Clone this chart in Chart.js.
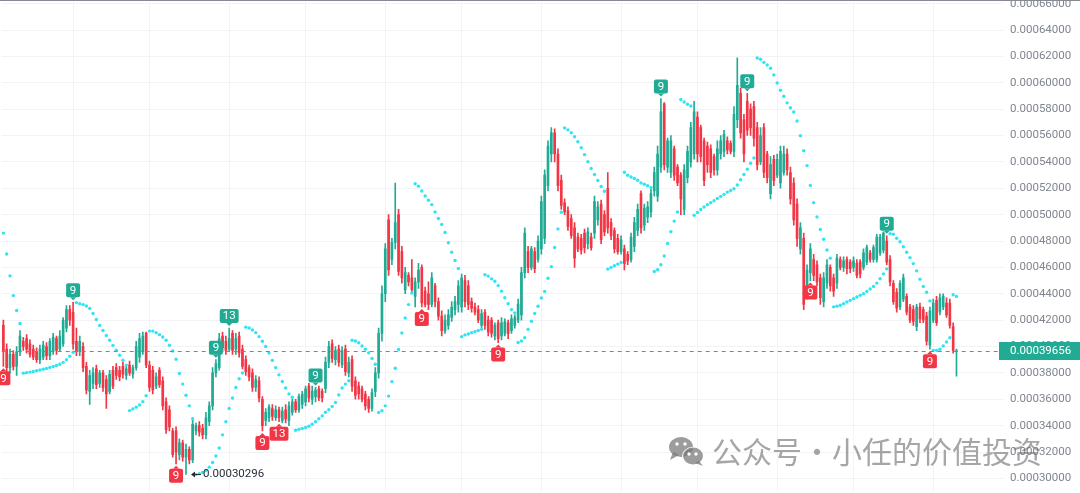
<!DOCTYPE html>
<html>
<head>
<meta charset="utf-8">
<title>Candles with Parabolic SAR</title>
<script src="https://cdn.jsdelivr.net/npm/chart.js@4.4.0/dist/chart.umd.min.js"></script>
<style>
  html, body { margin: 0; padding: 0; background: #ffffff; }
  canvas { display: block; }
</style>
</head>
<body>
<canvas id="chart" width="1080" height="493"></canvas>
<script>
// Prices are stored in millionths (1 unit = 0.000001)
const UNIT = 1e-6;

const openP = [
  416,398,384,394,385,396,404,406,402,398,396,390,
  392,400,393,396,406,398,402,414,428,426,404,396,
  400,385,366,372,383,372,380,375,366,382,384,382,
  385,378,386,379,384,392,396,410,386,382,370,382,
  374,358,352,336,336,318,327,316,322,314,336,340,
  338,333,343,355,380,384,408,404,398,410,398,408,
  398,390,384,380,369,374,360,344,346,353,346,352,
  344,352,344,350,358,352,356,358,370,360,362,368,
  366,368,388,402,390,398,386,398,380,390,374,370,
  368,364,360,353,366,380,410,440,496,466,479,500,
  472,443,454,452,438,449,460,442,440,432,446,434,
  423,412,416,422,428,432,430,450,446,434,430,428,
  416,426,420,420,408,418,408,410,418,412,416,420,
  424,456,472,460,472,466,474,482,522,546,562,546,
  526,509,503,497,490,483,482,486,478,483,486,496,
  508,500,520,494,488,482,472,474,470,466,476,488,
  516,492,498,502,518,514,536,584,536,532,550,536,
  530,504,528,540,546,574,566,556,552,550,544,534,
  546,548,556,554,548,572,592,572,586,580,582,566,
  540,566,546,516,542,530,524,532,546,532,524,508,
  474,482,440,456,466,462,452,434,448,460,452,448,
  466,460,466,464,460,463,464,460,464,471,466,466,
  471,473,480,466,448,441,430,436,438,430,428,415,
  430,428,423,401,420,435,426,430,433,433,415,396
];

const highP = [
  420,402,398,397,400,412,407,409,405,401,399,401,
  404,403,406,410,408,412,422,431,431,433.5,414,408,
  403,388,382,384,386,382,382,378,382,385,387,385,
  388,385,389,386,404,410,411,411,389,385,380,384,
  377,361,355,338,339,330,329,326,324,344,342,343,
  341,350,358,384,390,410,411,408,414,412,410,411,
  401,393,386,383,378,377,362,353,356,356,355,354,
  354,356,358,360,360,364,366,370,372,370,369,370,
  368,392,404,405,400,401,400,401,392,393,377,373,
  370,366,362,368,384,414,446,478,500,482,524,504,
  476,460,456,466,452,463,462,445,449,456,448,437,
  427,424,428,434,438,450,455,454,450,437,433,431,
  428,428,423,422,418,420,422,421,420,424,424,436,
  460,490,476,476,475,484,514,534,556,566,565,550,
  530,512,506,500,494,486,485,489,490,486,514,510,
  511,503,532,497,490,485,484,477,472,486,498,508,
  518,508,510,520,536,552,588,585,558,560,552,538,
  532,538,552,570,586,578,568,558,555,553,546,556,
  560,564,559,556,582,619,596,576,592,584,586,570,
  566,569,548,544,545,546,552,552,550,536,528,512,
  494,486,462,478,470,465,455,456,466,462,455,470,
  468,468,468,466,468,466,466,474,477,473,477,485,
  485,487,484,469,450,444,450,455,440,432,431,432,
  433,430,426,430,436,438,440,440,437,436,418,398
];

const lowP = [
  385,381,380,382,378,393,397,395,392,390,388,387,
  390,390,390,394,394,396,400,411,416,398,393,393,
  381,364,356,368,368,369,366,353,364,368,375,374,
  376,375,378,376,382,388,394,384,366,364,368,369,
  352,334,336,316,311,314,313,302.96,311,312,333,332,
  330,330,340,352,377,382,396,394,396,394,394,392,
  383,378,374,366,366,358,336,340,343,344,344,343,
  342,342,340,348,350,350,353,355,358,356,358,359,
  358,365,384,388,386,385,384,378,377,366,360,360,
  358,352,350,351,362,376,404,434,454,462,474,454,
  448,440,446,441,430,444,430,430,428,430,430,420,
  408,410,413,419,424,426,426,430,428,426,424,418,
  414,413,408,407,405,403,405,408,406,410,414,418,
  420,452,456,458,456,464,470,478,518,540,540,518,
  504,500,488,482,460,472,470,471,474,473,482,492,
  478,484,486,481,471,470,470,458,462,464,472,484,
  486,488,494,498,514,510,532,534,532,528,526,522,
  500,500,524,536,542,540,540,522,532,528,530,530,
  542,544,546,546,544,566,558,540,560,560,552,534,
  538,528,524,512,522,528,520,530,530,508,492,476,
  470,428,436,450,450,446,432,430,444,442,438,444,
  458,457,455,456,457,452,452,458,462,464,464,464,
  469,471,462,446,432,426,428,434,424,418,416,412,
  418,418,401,398,418,416,424,428,422,414,395,377.6
];

const closeP = [
  396,384,394,385,396,408,400,398,394,392,390,398,
  401,393,404,407,397,408,420,428,420,402,396,404,
  384,367,378,380,371,380,369,364,379,370,378,377,
  379,383,380,384,400,406,408,386,369,367,377,371,
  355,337,339,318,320,327,316,322,314,341,340,335,
  333,346,355,380,387,406,399,397,406,397,406,395,
  385,381,377,369,375,361,340,350,354,347,352,346,
  351,345,355,358,352,362,364,368,361,366,367,361,
  361,388,400,391,397,388,397,381,388,370,363,364,
  360,355,353,365,380,410,440,474,458,479,494,457,
  452,456,449,443,449,458,433,432,432,452,434,423,
  412,420,424,430,434,446,452,434,432,429,426,420,
  425,416,411,410,416,406,418,419,410,421,422,432,
  456,486,460,474,459,480,510,530,552,562,546,522,
  507,502,491,484,467,474,473,475,487,475,510,506,
  481,487,490,484,474,472,481,463,465,483,494,504,
  490,505,506,516,532,546,578,538,556,556,530,524,
  512,534,548,566,578,546,544,526,538,532,534,550,
  556,561,549,548,576,598,562,546,564,566,558,538,
  560,532,528,538,526,542,548,546,534,512,496,482,
  490,432,458,474,454,449,437,452,462,446,442,467,
  460,465,459,459,465,454,455,471,475,466,475,483,
  483,486,464,449,434,429,448,452,426,420,419,430,
  421,420,404,427,433,418,437,438,424,416,397,396.56
];

// Parabolic SAR, one value per candle
const sarP = [
  486,470.2,453.6,438.6,427.3,417.5,379.8,380.2,380.6,381.1,381.6,382.2,
  382.8,383.4,384.1,384.8,385.6,386.6,388,390,392.6,395.6,433.3,432.5,
  431.8,430.7,428.8,425,420.5,416,412.2,408.4,404.7,400.9,397.2,393.4,
  389.6,385.9,351.4,352.7,354,355.7,358.2,362.7,411.7,411.7,410.5,409,
  407.2,404.7,401,396.6,390.4,379.6,371.5,363,355,345.2,302.96,303.5,
  304.5,306,308.5,312,317,323,333,343,353,361,369,375.5,
  380,414.7,414,412.5,410.5,407.5,404,400,395,389.5,384,378.5,
  373.5,368.5,364,361.5,336.5,337.3,337.8,338.6,339.5,341,342.9,345.2,
  347.4,350.1,352,354.6,357.6,363.3,368.5,371.5,374,404.7,404.2,402.8,
  400.4,397.9,395.2,391,386.6,350,351.3,355,362.4,373.4,383.5,397.7,
  410.3,421.6,431.8,440.6,523.4,521.6,517.9,514.1,510.9,507.6,502.1,497.1,
  492.6,486.5,478.7,471.5,465.2,459.2,407.5,408.8,409.5,410.5,411.3,412.2,
  413,454.4,453.4,451.3,449.5,446.2,442,437,432.5,428,425.5,403,
  404.2,406.7,413,419.2,425,430.5,436.8,441.8,451.8,460.5,475.1,489.2,
  501.8,565.8,564.3,562.1,559.1,555.3,550.8,545.5,540.2,535,530.4,525.9,
  521.4,517.7,458.7,460,461.2,462.5,463.7,532.2,529.9,528.6,527.4,526.1,
  524.1,523.1,521.9,520.6,456.9,458.2,462,468.7,478.2,487,495.1,502.1,
  587.4,585.4,583.7,582.4,499.6,501.6,503.9,505.8,507.6,509.1,510.6,512.2,
  513.9,515.4,517.1,518.4,519.7,522.5,526.5,530.5,534.5,539,543,618.8,
  617.8,615.5,613.5,611,606,599.9,594.3,589.8,584.8,581.1,577.8,571,
  559.8,548.5,537.2,522.2,509.1,498.3,488.8,481.3,473.2,467,430.1,430.5,
  431.3,432.5,433.8,435,436.3,437.6,438.8,440.1,441.8,443.6,445.6,448.1,
  451.4,455.1,458.9,485.6,485.1,482.1,479.5,475.7,471.5,467.4,462.9,457.4,
  451.1,445.6,441.1,434.6,397.1,397.1,397.9,400.4,403.4,406.7,439.3,438
];

// TD sequential counts: above the bar (sell setup) and below the bar (buy setup)
const tdUpIndex = [21, 64, 68, 94, 198, 224, 266];
const tdUpText  = ['9', '9', '13', '9', '9', '9', '9'];
const tdDownIndex = [0, 52, 78, 83, 126, 149, 243, 279];
const tdDownText  = ['9', '9', '9', '13', '9', '9', '9', '9'];

// Price axis ticks and range
const yTicks = [300, 320, 340, 360, 380, 400, 420, 440, 460, 480, 500, 520, 540, 560, 580, 600, 620, 640, 660];
const yMin = 290.2;
const yMax = 661.5;

// Session separators (bar indices) and total slots on the time axis
const sessionLines = [21, 44, 68, 91, 115, 138, 162, 186, 209, 233, 256, 280];
const SLOTS = 300;

const UP = '#22ab94';
const DOWN = '#f23645';
const SAR_COLOR = '#2fe4f3';
const AXIS_TEXT = '#80858f';
const GRID = '#f1f3f7';

const slotLabels = Array.from({ length: SLOTS }, (_, i) => String(i));
const candleColors = openP.map((o, i) => (closeP[i] >= o ? UP : DOWN));

const fmt = v => (v * UNIT).toFixed(8);

function roundRect(ctx, x, y, w, h, r) {
  ctx.beginPath();
  ctx.moveTo(x + r, y);
  ctx.lineTo(x + w - r, y);
  ctx.quadraticCurveTo(x + w, y, x + w, y + r);
  ctx.lineTo(x + w, y + h - r);
  ctx.quadraticCurveTo(x + w, y + h, x + w - r, y + h);
  ctx.lineTo(x + r, y + h);
  ctx.quadraticCurveTo(x, y + h, x, y + h - r);
  ctx.lineTo(x, y + r);
  ctx.quadraticCurveTo(x, y, x + r, y);
  ctx.closePath();
}

// TD count labels, last-price line and lowest-low marker
const overlayPlugin = {
  id: 'overlay',
  afterDatasetsDraw(chart) {
    const { ctx, chartArea, scales: { x, y } } = chart;
    ctx.save();

    // last price dashed line
    const last = closeP.length - 1;
    const py = Math.round(y.getPixelForValue(closeP[last])) + 0.5;
    ctx.strokeStyle = '#26b09a';
    ctx.lineWidth = 1;
    ctx.setLineDash([4, 4]);
    ctx.beginPath();
    ctx.moveTo(chartArea.left, py);
    ctx.lineTo(chartArea.right, py);
    ctx.stroke();
    ctx.setLineDash([]);

    ctx.font = '11.5px Roboto, "Liberation Sans", sans-serif';
    ctx.textAlign = 'center';
    ctx.textBaseline = 'middle';
    const boxH = 14;
    const drawLabel = (idx, text, above) => {
      const cx = x.getPixelForValue(idx);
      const tw = ctx.measureText(text).width;
      const w = Math.max(14, tw + 6);
      const color = above ? UP : DOWN;
      ctx.fillStyle = color;
      if (above) {
        const tip = y.getPixelForValue(highP[idx]) - 2;
        const bottom = tip - 3;
        roundRect(ctx, cx - w / 2, bottom - boxH, w, boxH, 2);
        ctx.fill();
        ctx.beginPath();
        ctx.moveTo(cx - 3, bottom);
        ctx.lineTo(cx + 3, bottom);
        ctx.lineTo(cx, tip);
        ctx.closePath();
        ctx.fill();
        ctx.fillStyle = '#ffffff';
        ctx.fillText(text, cx, bottom - boxH / 2 + 0.5);
      } else {
        const tip = y.getPixelForValue(lowP[idx]) + 2;
        const top = tip + 3;
        roundRect(ctx, cx - w / 2, top, w, boxH, 2);
        ctx.fill();
        ctx.beginPath();
        ctx.moveTo(cx - 3, top);
        ctx.lineTo(cx + 3, top);
        ctx.lineTo(cx, tip);
        ctx.closePath();
        ctx.fill();
        ctx.fillStyle = '#ffffff';
        ctx.fillText(text, cx, top + boxH / 2 + 0.5);
      }
    };
    tdUpIndex.forEach((idx, k) => drawLabel(idx, tdUpText[k], true));
    tdDownIndex.forEach((idx, k) => drawLabel(idx, tdDownText[k], false));

    // lowest low marker: arrow pointing at the bar, then the value
    let minIdx = 0;
    lowP.forEach((v, i) => { if (v < lowP[minIdx]) minIdx = i; });
    const ax = x.getPixelForValue(minIdx) + 5;
    const ay = Math.round(y.getPixelForValue(lowP[minIdx])) + 0.5;
    ctx.strokeStyle = '#2a2e39';
    ctx.fillStyle = '#2a2e39';
    ctx.lineWidth = 1;
    ctx.beginPath();
    ctx.moveTo(ax + 1, ay);
    ctx.lineTo(ax + 10, ay);
    ctx.stroke();
    ctx.beginPath();
    ctx.moveTo(ax, ay);
    ctx.lineTo(ax + 4, ay - 3);
    ctx.lineTo(ax + 4, ay + 3);
    ctx.closePath();
    ctx.fill();
    ctx.font = '11.5px Roboto, "Liberation Sans", sans-serif';
    ctx.textAlign = 'left';
    ctx.fillText(fmt(lowP[minIdx]), ax + 12, ay);

    ctx.restore();
  },
  afterDraw(chart) {
    const { ctx, chartArea, scales: { y } } = chart;
    ctx.save();

    // last price tag on the axis
    const last = closeP.length - 1;
    const py = Math.round(y.getPixelForValue(closeP[last]));
    ctx.fillStyle = UP;
    ctx.fillRect(chartArea.right + 1, py - 9, chart.width - chartArea.right - 1, 18);
    ctx.fillStyle = '#ffffff';
    ctx.font = '11.5px Roboto, "Liberation Sans", sans-serif';
    ctx.textAlign = 'left';
    ctx.textBaseline = 'middle';
    ctx.fillText(fmt(closeP[last]), chartArea.right + 12, py + 0.5);

    // pane top border
    ctx.fillStyle = '#868993';
    ctx.fillRect(0, 0, chart.width, 1);

    // watermark: chat icon + account name
    const ix = 684, iy = 451;
    ctx.fillStyle = 'rgba(118,118,118,0.72)';
    ctx.beginPath();
    ctx.ellipse(ix - 3, iy - 4, 12, 10, 0, 0, Math.PI * 2);
    ctx.fill();
    ctx.beginPath();
    ctx.moveTo(ix - 11, iy + 1);
    ctx.lineTo(ix - 14, iy + 9);
    ctx.lineTo(ix - 5, iy + 4);
    ctx.closePath();
    ctx.fill();
    ctx.strokeStyle = '#ffffff';
    ctx.lineWidth = 1.6;
    ctx.beginPath();
    ctx.ellipse(ix + 9, iy + 5, 10, 8.5, 0, 0, Math.PI * 2);
    ctx.stroke();
    ctx.fill();
    ctx.beginPath();
    ctx.moveTo(ix + 15, iy + 10);
    ctx.lineTo(ix + 19, iy + 15);
    ctx.lineTo(ix + 11, iy + 12);
    ctx.closePath();
    ctx.fill();
    ctx.fillStyle = '#ffffff';
    [[ix - 7, iy - 7], [ix + 1, iy - 7], [ix + 5, iy + 3], [ix + 12, iy + 3]].forEach(([ex, ey]) => {
      ctx.beginPath();
      ctx.arc(ex, ey, 1.7, 0, Math.PI * 2);
      ctx.fill();
    });
    ctx.fillStyle = 'rgba(112,112,112,0.62)';
    ctx.font = '30px "Noto Sans CJK SC", sans-serif';
    ctx.textAlign = 'left';
    ctx.textBaseline = 'middle';
    ctx.fillText('公众号·小任的价值投资', 712, 452);

    ctx.restore();
  }
};

new Chart(document.getElementById('chart'), {
  data: {
    labels: slotLabels,
    datasets: [
      {
        type: 'bar',
        label: 'wick',
        data: lowP.map((l, i) => [l, highP[i]]),
        backgroundColor: candleColors,
        barThickness: 1,
        grouped: false,
        order: 3
      },
      {
        type: 'bar',
        label: 'body',
        data: openP.map((o, i) => [o, closeP[i]]),
        backgroundColor: candleColors,
        barThickness: 2,
        minBarLength: 1,
        grouped: false,
        order: 2
      },
      {
        type: 'line',
        label: 'SAR',
        data: sarP,
        showLine: false,
        pointRadius: 1.7,
        pointHoverRadius: 0,
        pointBorderWidth: 0,
        pointBackgroundColor: SAR_COLOR,
        order: 1
      }
    ]
  },
  options: {
    responsive: false,
    animation: false,
    devicePixelRatio: 1,
    events: [],
    layout: { padding: 0 },
    plugins: { legend: { display: false }, tooltip: { enabled: false } },
    scales: {
      x: {
        type: 'category',
        offset: true,
        border: { display: false },
        ticks: { display: false, autoSkip: false },
        grid: {
          offset: false,
          drawTicks: false,
          color: ctx => (sessionLines.includes(ctx.index) ? GRID : 'rgba(0,0,0,0)')
        },
        afterFit: s => { s.height = 0; s.paddingLeft = 0; s.paddingRight = 0; }
      },
      y: {
        type: 'linear',
        position: 'right',
        min: yMin,
        max: yMax,
        border: { display: false },
        grid: { color: GRID, drawTicks: true, tickLength: 6 },
        ticks: {
          color: AXIS_TEXT,
          padding: 6,
          font: { family: 'Roboto', size: 11.5 },
          callback: v => fmt(v)
        },
        afterBuildTicks: s => { s.ticks = yTicks.map(v => ({ value: v })); },
        afterFit: s => { s.width = 82; s.paddingTop = 0; s.paddingBottom = 0; }
      }
    }
  },
  plugins: [overlayPlugin]
});
</script>
</body>
</html>
